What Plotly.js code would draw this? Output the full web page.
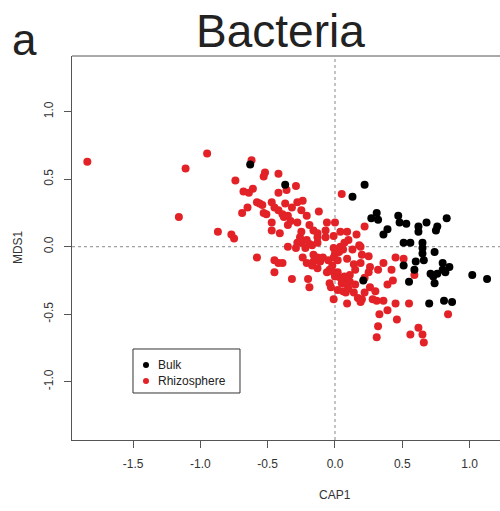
<!DOCTYPE html>
<html>
<head>
<meta charset="utf-8">
<script src="https://cdn.plot.ly/plotly-3.0.1.min.js"></script>
<style>html,body{margin:0;padding:0;background:#fff;}#chart{width:500px;height:511px;}</style>
</head>
<body>
<div id="chart"></div>
<script>
// Bulk soil samples (CAP1, MDS1)
const bulkX = [-0.63,-0.37,0.22,0.13,0.31,0.27,0.32,0.47,0.48,0.53,0.68,0.62,0.62,0.76,0.75,0.83,0.39,0.36,0.51,0.56,0.65,0.65,0.74,0.65,0.66,0.60,0.51,0.59,0.80,0.85,0.80,0.82,0.71,0.73,0.76,1.02,1.13,0.21,0.55,0.74,0.70,0.81,0.87];
const bulkY = [0.61,0.46,0.46,0.37,0.25,0.21,0.20,0.23,0.18,0.17,0.18,0.15,0.11,0.15,0.12,0.21,0.13,0.09,0.03,0.03,0.03,-0.01,-0.04,-0.05,-0.10,-0.11,-0.14,-0.17,-0.12,-0.15,-0.17,-0.19,-0.20,-0.22,-0.20,-0.21,-0.24,-0.25,-0.26,-0.27,-0.42,-0.40,-0.41];

// Rhizosphere samples (CAP1, MDS1)
const rhizoX = [-1.84,-1.11,-0.95,-1.16,-0.87,-0.77,-0.75,-0.74,-0.62,-0.52,-0.53,-0.42,-0.36,-0.29,-0.68,-0.64,-0.61,-0.42,-0.58,-0.56,-0.54,-0.47,-0.45,-0.42,-0.37,-0.32,-0.28,-0.24,-0.25,-0.21,-0.65,-0.69,-0.53,-0.51,-0.39,-0.38,-0.35,-0.12,0.05,-0.33,-0.28,-0.47,-0.47,-0.41,-0.35,-0.19,-0.16,-0.13,-0.07,-0.06,0.00,-0.25,-0.26,-0.25,-0.21,-0.28,-0.19,-0.13,-0.13,-0.35,-0.29,-0.22,-0.17,-0.01,-0.01,0.04,0.07,0.04,0.09,-0.07,0.10,0.16,0.18,0.06,0.03,0.00,-0.01,0.02,0.09,0.13,0.19,0.20,0.25,0.26,0.25,-0.24,-0.21,-0.16,-0.13,-0.11,-0.16,-0.13,-0.17,-0.05,-0.02,-0.04,-0.06,-0.01,0.02,0.00,0.04,0.06,0.05,0.09,0.10,0.11,0.15,-0.32,-0.20,-0.19,-0.04,-0.03,0.08,0.06,0.02,-0.01,0.09,0.14,0.17,0.19,0.20,0.26,0.30,0.28,0.31,0.32,0.36,0.39,0.39,0.33,0.32,0.31,-0.58,-0.45,-0.42,-0.39,-0.45,-0.09,0.22,0.14,0.15,0.11,0.07,0.36,0.45,0.55,0.46,0.62,0.65,0.56,0.66,0.84,0.43,0.59,0.22,0.19,0.45,0.51,0.42,0.22];
const rhizoY = [0.63,0.58,0.69,0.22,0.11,0.09,0.06,0.49,0.64,0.55,0.52,0.54,0.42,0.45,0.41,0.40,0.43,0.40,0.33,0.32,0.31,0.33,0.29,0.27,0.32,0.29,0.33,0.34,0.27,0.23,0.29,0.25,0.25,0.24,0.24,0.22,0.23,0.26,0.39,0.19,0.18,0.18,0.12,0.10,0.16,0.16,0.12,0.10,0.12,0.18,0.18,0.11,0.07,0.03,0.05,0.03,0.02,0.03,0.07,0.00,-0.01,-0.01,0.01,0.08,-0.01,0.00,0.03,0.11,0.11,0.07,0.05,0.09,0.01,-0.02,-0.04,-0.05,-0.08,-0.10,-0.09,-0.02,-0.12,-0.06,-0.07,-0.15,-0.19,-0.08,-0.12,-0.06,-0.08,-0.11,-0.11,-0.16,-0.14,-0.10,-0.14,-0.17,-0.19,-0.19,-0.19,-0.22,-0.23,-0.25,-0.27,-0.28,-0.31,-0.26,-0.28,-0.24,-0.24,-0.30,-0.27,-0.30,-0.34,-0.33,-0.32,-0.39,-0.42,-0.34,-0.38,-0.41,-0.39,-0.30,-0.33,-0.39,-0.40,-0.17,-0.12,-0.28,-0.47,-0.50,-0.59,-0.67,-0.08,-0.10,-0.12,-0.12,-0.19,-0.08,-0.34,-0.13,-0.17,-0.21,-0.22,-0.40,-0.42,-0.42,-0.54,-0.60,-0.65,-0.65,-0.71,-0.50,-0.25,-0.21,0.15,0.00,-0.08,-0.09,-0.17,-0.23];

const groupNames = ['Bulk', 'Rhizosphere'];
const xTicks = [-1.5,-1.0,-0.5,0.0,0.5,1.0];
const xTickText = ['-1.5','-1.0','-0.5','0.0','0.5','1.0'];
const yTicks = [-1.0,-0.5,0.0,0.5,1.0];
const yTickText = ['-1.0','-0.5','0.0','0.5','1.0'];

const font = 'Liberation Sans, Arial, sans-serif';
const axisCol = '#555';
const colBulk = '#000000';
const colRhizo = '#e32227';

const traces = [
  {x: rhizoX, y: rhizoY, type: 'scatter', mode: 'markers', name: groupNames[1],
   marker: {color: colRhizo, size: 8, line: {width: 0}}},
  {x: bulkX, y: bulkY, type: 'scatter', mode: 'markers', name: groupNames[0],
   marker: {color: colBulk, size: 8, line: {width: 0}}}
];

// legend box (paper coordinates inside plot area)
const lgX0 = 0.1425, lgX1 = 0.3925, lgY0 = 0.1224, lgY1 = 0.237;
const lgSymX = 0.1729, lgTxtX = 0.1963, lgRows = [0.1953, 0.1536];
const rX = 3 / 428, rY = 3 / 384;

const layout = {
  width: 500, height: 511,
  margin: {l: 72, r: 0, t: 56, b: 71, pad: 0},
  paper_bgcolor: '#fff', plot_bgcolor: '#fff',
  font: {family: font, size: 12, color: '#333'},
  showlegend: false,
  xaxis: {range: [-1.954, 1.226], tickvals: xTicks, ticktext: xTickText,
          showgrid: false, zeroline: false, showline: true, linecolor: axisCol, linewidth: 1,
          ticks: 'outside', ticklen: 7, tickcolor: axisCol, ticklabelstandoff: 6,
          tickfont: {family: font, size: 12, color: '#333'}, fixedrange: true},
  yaxis: {range: [-1.432, 1.413], tickvals: yTicks, ticktext: yTickText, tickangle: -90,
          showgrid: false, zeroline: false, showline: true, linecolor: axisCol, linewidth: 1,
          ticks: 'outside', ticklen: 7, tickcolor: axisCol, ticklabelstandoff: 6,
          tickfont: {family: font, size: 12, color: '#333'}, fixedrange: true},
  shapes: [
    {type: 'line', xref: 'paper', yref: 'paper', x0: 0, x1: 1, y0: 1, y1: 1,
     line: {color: axisCol, width: 1}},
    {type: 'line', xref: 'x', yref: 'paper', x0: 0, x1: 0, y0: 0, y1: 1,
     line: {color: '#888', width: 1, dash: 'dot'}, layer: 'below'},
    {type: 'line', xref: 'paper', yref: 'y', x0: 0, x1: 1, y0: 0, y1: 0,
     line: {color: '#888', width: 1, dash: 'dot'}, layer: 'below'},
    {type: 'rect', xref: 'paper', yref: 'paper', x0: lgX0, x1: lgX1, y0: lgY0, y1: lgY1,
     line: {color: '#333', width: 1}, fillcolor: '#fff', layer: 'above'},
    {type: 'circle', xref: 'paper', yref: 'paper', x0: lgSymX - rX, x1: lgSymX + rX,
     y0: lgRows[0] - rY, y1: lgRows[0] + rY, line: {width: 0}, fillcolor: colBulk, layer: 'above'},
    {type: 'circle', xref: 'paper', yref: 'paper', x0: lgSymX - rX, x1: lgSymX + rX,
     y0: lgRows[1] - rY, y1: lgRows[1] + rY, line: {width: 0}, fillcolor: colRhizo, layer: 'above'}
  ],
  annotations: [
    {text: 'Bacteria', xref: 'paper', yref: 'paper', x: 0.486, y: 1.065,
     xanchor: 'center', yanchor: 'middle', showarrow: false,
     font: {family: font, size: 46, color: '#222'}},
    {text: 'a', xref: 'paper', yref: 'paper', x: -0.112, y: 1.044,
     xanchor: 'center', yanchor: 'middle', showarrow: false,
     font: {family: font, size: 44, color: '#222'}},
    {text: 'CAP1', xref: 'paper', yref: 'paper', x: 0.6145, y: -0.143,
     xanchor: 'center', yanchor: 'middle', showarrow: false,
     font: {family: font, size: 12, color: '#333'}},
    {text: 'MDS1', xref: 'paper', yref: 'paper', x: -0.126, y: 0.5026, textangle: -90,
     xanchor: 'center', yanchor: 'middle', showarrow: false,
     font: {family: font, size: 12, color: '#333'}},
    {text: groupNames[0], xref: 'paper', yref: 'paper', x: lgTxtX, y: lgRows[0],
     xanchor: 'left', yanchor: 'middle', showarrow: false,
     font: {family: font, size: 12, color: '#222'}},
    {text: groupNames[1], xref: 'paper', yref: 'paper', x: lgTxtX, y: lgRows[1],
     xanchor: 'left', yanchor: 'middle', showarrow: false,
     font: {family: font, size: 12, color: '#222'}}
  ]
};

Plotly.newPlot('chart', traces, layout, {displayModeBar: false, staticPlot: true});
</script>
</body>
</html>
